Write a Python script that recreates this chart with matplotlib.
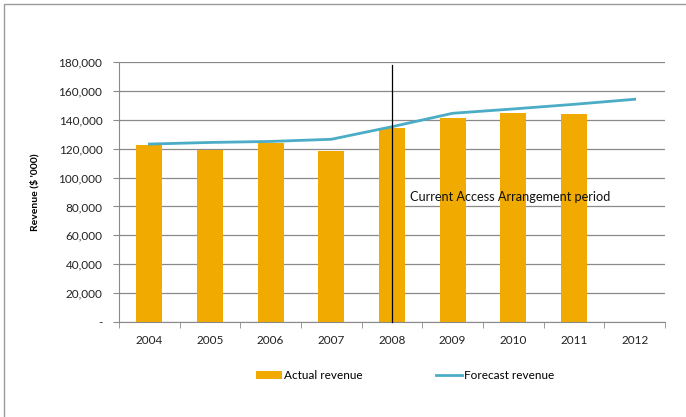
import numpy as np
import matplotlib.pyplot as plt
import matplotlib.patches as patches
from matplotlib.ticker import FuncFormatter, FixedLocator

years = ['2004', '2005', '2006', '2007', '2008', '2009', '2010', '2011', '2012']
actual = [122300, 119100, 124000, 118400, 134100, 141000, 144900, 144200]
forecast = [123200, 124300, 125000, 126500, 135200, 144500, 147500, 150700, 154200]
period_start = '2008'
period_top = 178000

plt.rcParams['font.family'] = ['Lato', 'DejaVu Sans']

fig = plt.figure(figsize=(6.86, 4.17), dpi=100)
ax = fig.add_axes([119/686, 1-322/417, (665-119)/686, (322-62)/417])

x = np.arange(len(years))
bars = ax.bar(x[:len(actual)], actual, width=0.43, color='#F0AA00', label='Actual revenue', zorder=2)
line, = ax.plot(x, forecast, color='#4BACC6', lw=2.0, label='Forecast revenue', zorder=3)

# marker for the start of the current access arrangement
xi = years.index(period_start)
ax.plot([xi, xi], [0, period_top], color='black', lw=0.9, zorder=4, clip_on=False)
ax.text(xi + 0.3, 86500, 'Current Access Arrangement period', fontsize=9.2,
        va='center', ha='left', color='#111111', zorder=5)

ax.set_xlim(-0.5, len(years) - 0.5)
ax.set_ylim(0, 180000)
ax.set_yticks(np.arange(0, 180001, 20000))
ax.yaxis.set_major_formatter(FuncFormatter(lambda v, p: '-' if v == 0 else f'{int(v):,}'))
ax.yaxis.grid(True, color='#8a8a8a', lw=0.9, zorder=0)
ax.set_axisbelow(True)

ax.set_xticks(x)
ax.set_xticklabels(years)
ax.xaxis.set_minor_locator(FixedLocator(np.arange(-0.5, len(years), 1)))
ax.tick_params(axis='x', which='major', length=0, pad=9, labelsize=8.5, labelcolor='#222222')
ax.tick_params(axis='x', which='minor', length=4, color='#8a8a8a', direction='out')
ax.tick_params(axis='y', length=4, color='#8a8a8a', labelsize=8.5, labelcolor='#222222', pad=8)

for s in ['top', 'right']:
    ax.spines[s].set_visible(False)
ax.spines['left'].set_color('#8a8a8a')
ax.spines['bottom'].set_color('#8a8a8a')

ax.set_ylabel("Revenue ($ '000)", fontsize=7.5, fontweight='bold', labelpad=14)

ax.legend([bars, line], ['Actual revenue', 'Forecast revenue'],
          loc='center', bbox_to_anchor=(0.524, -0.205), ncol=2, frameon=False,
          fontsize=8.5, handlelength=2.2, handleheight=0.7, handletextpad=0.15,
          columnspacing=6.2)

# chart frame
fig.patches.append(patches.Rectangle((4/686, -0.1), 1.2, 0.1 + 413/417, transform=fig.transFigure,
                                     fill=False, edgecolor='#9a9a9a', lw=1.0))

fig.savefig('out.png', dpi=100)
